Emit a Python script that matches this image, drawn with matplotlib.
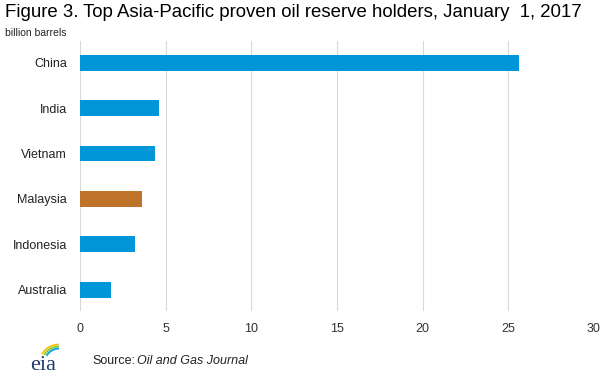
import numpy as np
import matplotlib
matplotlib.use('Agg')
import matplotlib.pyplot as plt
from matplotlib.patches import Arc

plt.rcParams['font.family'] = ['Liberation Sans', 'DejaVu Sans']

countries = ['China', 'India', 'Vietnam', 'Malaysia', 'Indonesia', 'Australia']
reserves = [25.6, 4.6, 4.4, 3.6, 3.2, 1.8]
colors = ['#0096d7', '#0096d7', '#0096d7', '#bd732a', '#0096d7', '#0096d7']
xticks = [0, 5, 10, 15, 20, 25, 30]

fig = plt.figure(figsize=(6.14, 3.76), dpi=100)
ax = fig.add_axes([0.1303, 0.173, 0.8371, 0.718])

y = np.arange(len(countries))[::-1]
ax.barh(y, reserves, height=0.35, color=colors, zorder=3)

ax.set_xlim(0, 30)
ax.set_ylim(-0.47, 5.48)
ax.set_xticks(xticks)
ax.set_xticklabels([str(t) for t in xticks], fontsize=9, color='#333333')
ax.set_yticks(y)
ax.set_yticklabels(countries, fontsize=9, color='#222222')
ax.tick_params(axis='both', length=0)
ax.tick_params(axis='x', pad=9)
ax.tick_params(axis='y', pad=9.5)
ax.xaxis.grid(True, color='#d9d9d9', linewidth=0.8, zorder=0)
for s in ax.spines.values():
    s.set_visible(False)

fig.text(0.008, 0.99, 'Figure 3. Top Asia-Pacific proven oil reserve holders, January  1, 2017',
         fontsize=13.4, va='top', ha='left', color='black')
fig.text(0.008, 0.925, 'billion barrels', fontsize=7.5, va='top', ha='left', color='#222222')

fig.text(0.150, 0.04, 'Source:', fontsize=9, va='center', ha='left', color='#222222')
fig.text(0.223, 0.04, 'Oil and Gas Journal', fontsize=9, style='italic',
         va='center', ha='left', color='#222222')

# eia logo
lax = fig.add_axes([0.05, 0.0, 0.05, 0.095])
lax.set_xlim(0, 1)
lax.set_ylim(0, 1)
lax.axis('off')
lax.text(0.42, 0.02, 'eia', fontsize=16, family='Liberation Serif', color='#1f3a6e',
         ha='center', va='bottom')
for r, c in [(0.62, '#f2c200'), (0.54, '#8cc63f'), (0.46, '#00a3d9')]:
    lax.add_patch(Arc((0.95, 0.45), r * 2.0, r * 1.4, theta1=95, theta2=165, color=c, lw=1.3))

fig.savefig('out.png', dpi=100)
